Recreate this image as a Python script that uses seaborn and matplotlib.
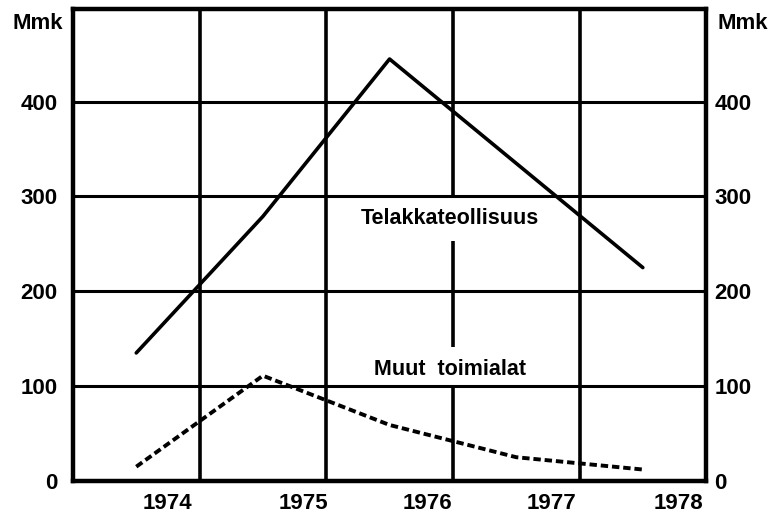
import matplotlib
matplotlib.use("Agg")
import matplotlib.pyplot as plt
import seaborn as sns
import pandas as pd

# data (points sit in the middle of each year column)
x_pos = [0.5, 1.5, 2.5, 3.5, 4.5]
telakka = [135, 279, 445, 335, 225]
muut = [15, 111, 59, 25, 12]

year_labels = ["1974", "1975", "1976", "1977", "1978"]
label_pos = [0.75, 1.82, 2.80, 3.78, 4.78]
y_ticks = [0, 100, 200, 300, 400]

sns.set_style("white")
plt.rcParams['font.family'] = ['Liberation Sans', 'DejaVu Sans']
plt.rcParams['font.weight'] = 'bold'
plt.rcParams['text.color'] = 'black'
plt.rcParams['xtick.color'] = 'black'
plt.rcParams['ytick.color'] = 'black'

df = pd.DataFrame({'x': x_pos, 'telakka': telakka, 'muut': muut})

fig = plt.figure(figsize=(7.76, 5.16), dpi=100)
ax = fig.add_axes([0.094, 0.068, 0.816, 0.915])

# gridlines (the middle one is broken where the series labels sit)
for g in [1, 2, 4]:
    ax.axvline(g, color='black', lw=2.6, zorder=1)
ax.vlines(3, 300, 498, color='black', lw=2.6, zorder=1)
ax.vlines(3, 141, 253, color='black', lw=2.6, zorder=1)
ax.vlines(3, 0, 100, color='black', lw=2.6, zorder=1)
for t in y_ticks[1:]:
    ax.axhline(t, color='black', lw=2.2, zorder=1)

sns.lineplot(data=df, x='x', y='telakka', ax=ax, color='black', lw=2.6, zorder=3)
sns.lineplot(data=df, x='x', y='muut', ax=ax, color='black', lw=2.8,
             linestyle=(0, (1.9, 1.0)), zorder=3)

ax.set_xlim(0, 5)
ax.set_ylim(0, 498)
ax.set_xticks(label_pos)
ax.set_xticklabels(year_labels, fontsize=16, fontweight='bold')
ax.set_yticks(y_ticks)
ax.set_yticklabels([str(v) for v in y_ticks], fontsize=16, fontweight='bold')
ax.tick_params(length=0, pad=9)
ax.tick_params(axis='y', pad=11)
ax.set_xlabel('')
ax.set_ylabel('')
for s in ax.spines.values():
    s.set_color('black')
    s.set_linewidth(3.2)

ax2 = ax.twinx()
ax2.set_ylim(0, 498)
ax2.set_yticks(y_ticks)
ax2.set_yticklabels([str(v) for v in y_ticks], fontsize=16, fontweight='bold')
ax2.tick_params(length=0, pad=6)
for s in ax2.spines.values():
    s.set_visible(False)

fig.text(0.049, 0.955, 'Mmk', ha='center', va='center', fontsize=16, fontweight='bold')
fig.text(0.957, 0.955, 'Mmk', ha='center', va='center', fontsize=16, fontweight='bold')

# series labels
ax.text(2.98, 277, 'Telakkateollisuus', ha='center', va='center', fontsize=15.5, fontweight='bold')
ax.text(2.98, 117, 'Muut  toimialat', ha='center', va='center', fontsize=15.5, fontweight='bold')

fig.savefig('out.png', dpi=100)
